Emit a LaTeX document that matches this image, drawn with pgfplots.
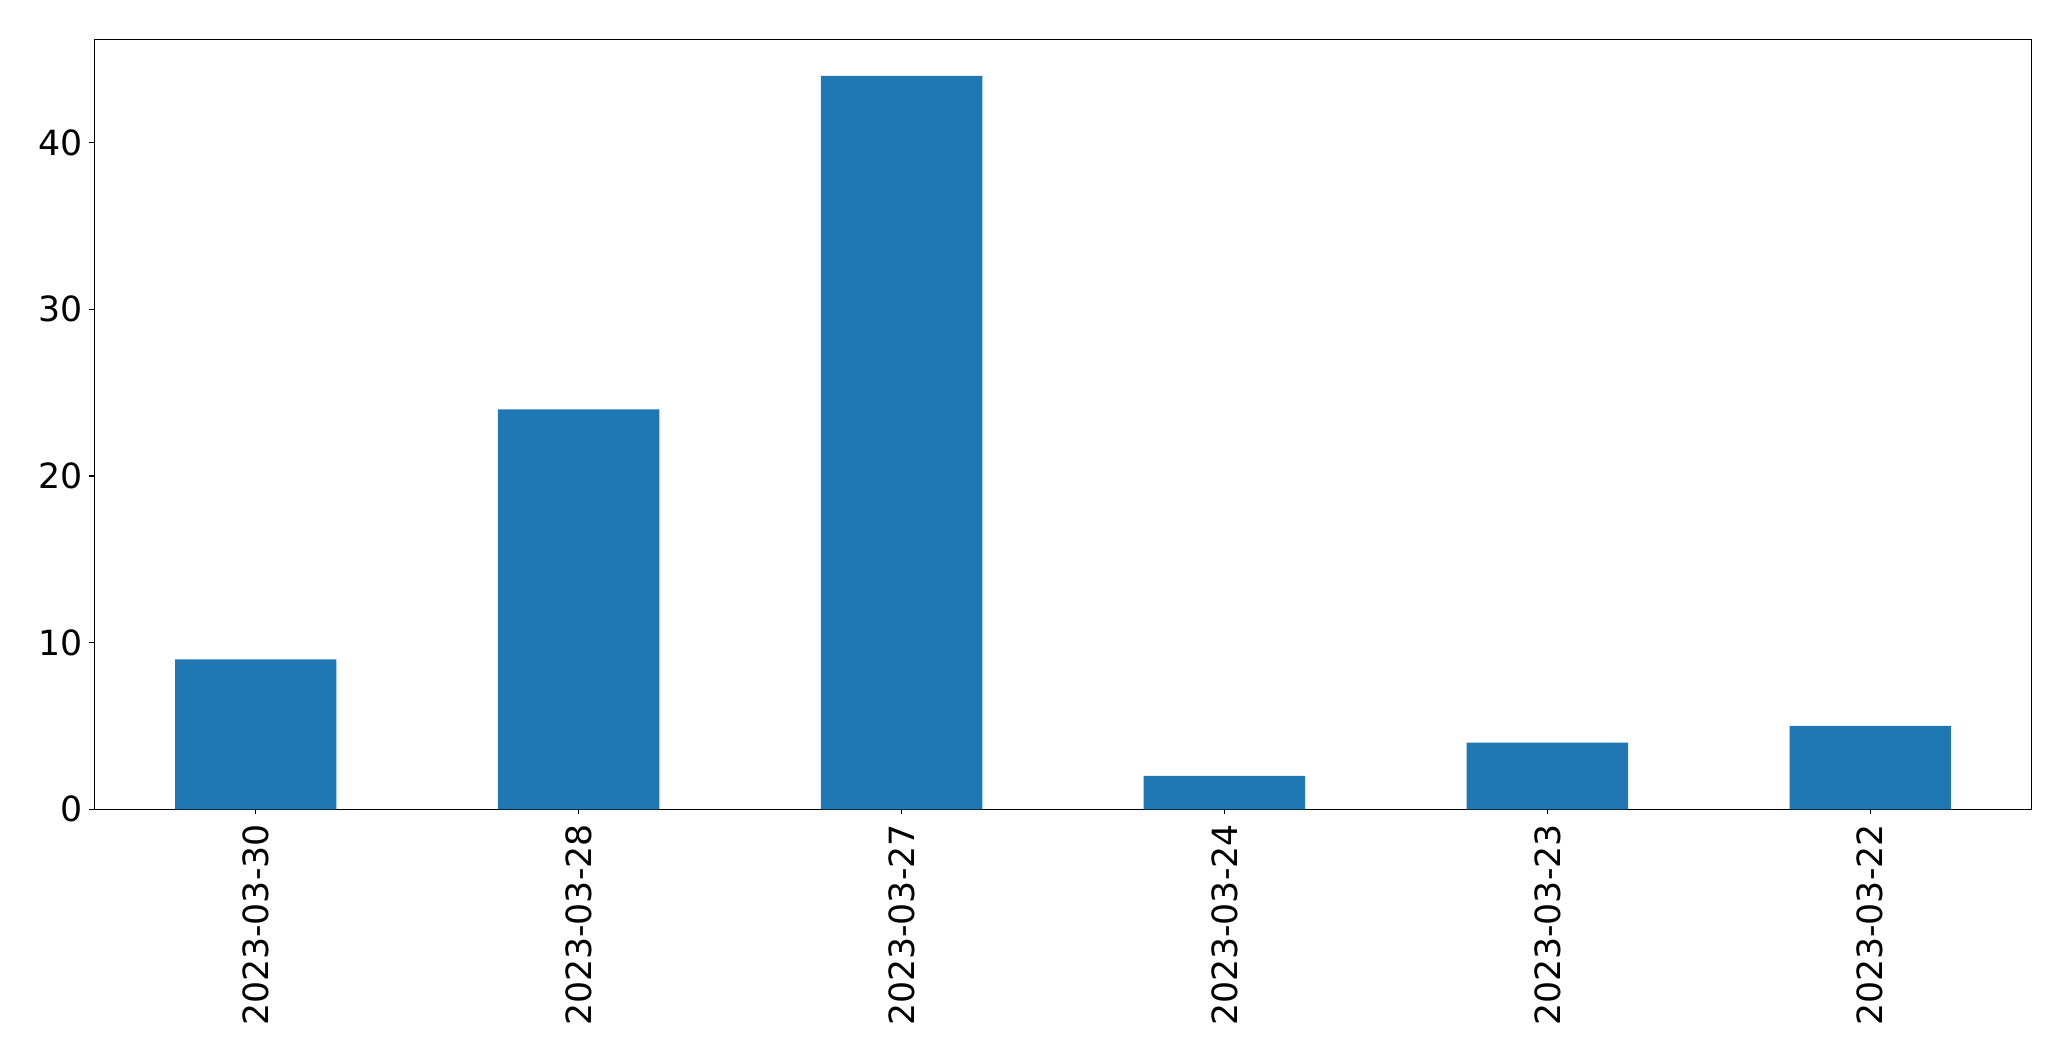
\documentclass[border=0pt]{standalone}
\usepackage{pgfplots}
\pgfplotsset{compat=1.18}
\usepackage{fontspec}
\setmainfont{DejaVu Sans}
\definecolor{barblue}{HTML}{1F77B4}
\begin{document}
\begin{tikzpicture}
\useasboundingbox (-67.9pt,-181.2pt) rectangle (1423.2pt,582.7pt);
\fill[white] (-67.9pt,-181.2pt) rectangle (1423.2pt,582.7pt);
\begin{axis}[
  at={(0pt,0pt)}, anchor=south west,
  scale only axis, width=1394.9pt, height=554.4pt,
  xmin=-0.5, xmax=5.5, ymin=0, ymax=46.2,
  axis line style={line width=0.8pt, black},
  tick style={line width=0.8pt, black},
  tick align=outside, major tick length=3.5pt,
  xtick={0,1,2,3,4,5},
  xticklabels={2023-03-30,2023-03-28,2023-03-27,2023-03-24,2023-03-23,2023-03-22},
  ytick={0,10,20,30,40},
  xtick pos=bottom, ytick pos=left,
  /pgf/number format/assume math mode=true,
  ticklabel style={font=\fontsize{25}{30}\selectfont, inner sep=0pt},
  xticklabel style={rotate=90, anchor=east},
  yticklabel style={anchor=east},
  xticklabel shift=7pt, yticklabel shift=4.5pt,
  ybar, bar width=0.5, bar shift=0pt,
]
\addplot[fill=barblue, draw=none] coordinates {(0,9) (1,24) (2,44) (3,2) (4,4) (5,5)};
\end{axis}
\end{tikzpicture}
\end{document}
